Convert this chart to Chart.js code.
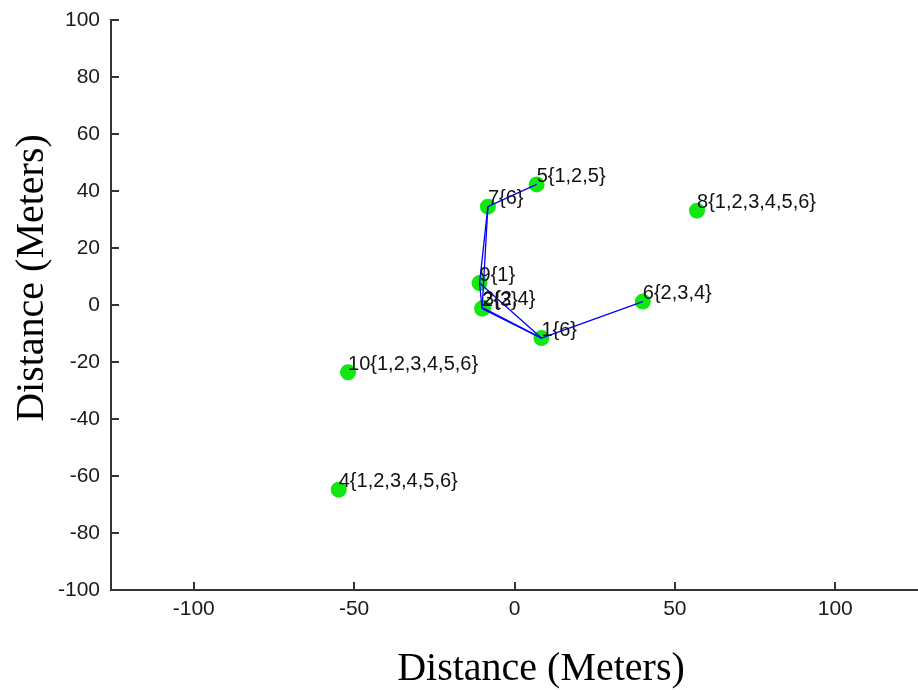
<!DOCTYPE html>
<html>
<head>
<meta charset="utf-8">
<script src="https://cdn.jsdelivr.net/npm/chart.js@4/dist/chart.umd.min.js"></script>
<style>
  html, body { margin: 0; padding: 0; background: #fff; overflow: hidden; }
  #wrap { width: 918px; height: 690px; }
</style>
</head>
<body>
<div id="wrap"><canvas id="nodeChart" width="918" height="690"></canvas></div>
<script>
// node positions in meters
const nodeX = [8.4, -10.1, -9.8, -54.8, 6.9, 40.0, -8.3, 56.9, -10.9, -51.9];
const nodeY = [-11.6, -1.3, -1.0, -64.8, 42.3, 1.2, 34.5, 33.1, 7.7, -23.6];
const nodeLabels = ['1{6}', '2{3}', '3{2,4}', '4{1,2,3,4,5,6}', '5{1,2,5}', '6{2,3,4}',
  '7{6}', '8{1,2,3,4,5,6}', '9{1}', '10{1,2,3,4,5,6}'];

// links between nodes (1-based node numbers)
const links = [[5, 7], [7, 9], [7, 2], [9, 2], [2, 1], [3, 1], [9, 1], [1, 6]];

const xTicks = [-100, -50, 0, 50, 100];
const yTicks = [-100, -80, -60, -40, -20, 0, 20, 40, 60, 80, 100];
const xRange = [-125.8, 125.8];
const yRange = [-100, 100];

const axisTitle = 'Distance (Meters)';

const nodePoints = nodeX.map((x, i) => ({ x: x, y: nodeY[i] }));

const linkSets = links.map(([a, b]) => ({
  type: 'scatter',
  data: [nodePoints[a - 1], nodePoints[b - 1]],
  showLine: true,
  borderColor: '#0000ff',
  borderWidth: 1.3,
  pointRadius: 0,
  pointHoverRadius: 0,
  order: 1
}));

// inward tick marks on both axes
const tickMarks = {
  id: 'tickMarks',
  afterDraw(chart) {
    const { ctx, chartArea, scales } = chart;
    ctx.save();
    ctx.strokeStyle = '#333';
    ctx.lineWidth = 2;
    ctx.beginPath();
    xTicks.forEach(v => {
      const px = Math.round(scales.x.getPixelForValue(v));
      ctx.moveTo(px, chartArea.bottom);
      ctx.lineTo(px, chartArea.bottom - 8);
    });
    yTicks.forEach(v => {
      const py = Math.round(scales.y.getPixelForValue(v));
      ctx.moveTo(chartArea.left, py);
      ctx.lineTo(chartArea.left + 8, py);
    });
    ctx.stroke();
    ctx.restore();
  }
};

// node name + group text next to each point (last node first)
const nodeText = {
  id: 'nodeText',
  afterDatasetsDraw(chart) {
    const meta = chart.getDatasetMeta(0);
    const ctx = chart.ctx;
    ctx.save();
    ctx.font = '20px "Liberation Sans", Arial, sans-serif';
    ctx.fillStyle = '#111';
    ctx.textAlign = 'left';
    ctx.textBaseline = 'middle';
    for (let i = meta.data.length - 1; i >= 0; i--) {
      const pt = meta.data[i];
      ctx.fillText(nodeLabels[i], pt.x, pt.y - 8);
    }
    ctx.restore();
  }
};

// serif axis titles
const axisTitles = {
  id: 'axisTitles',
  afterDraw(chart) {
    const ctx = chart.ctx;
    ctx.save();
    ctx.font = '40px "Liberation Serif", "Times New Roman", serif';
    ctx.fillStyle = '#000';
    ctx.textAlign = 'center';
    ctx.textBaseline = 'alphabetic';
    ctx.fillText(axisTitle, 541, 680);
    ctx.translate(43, 278);
    ctx.rotate(-Math.PI / 2);
    ctx.fillText(axisTitle, 0, 0);
    ctx.restore();
  }
};

const tickFont = { family: '"Liberation Sans", Arial, sans-serif', size: 21 };

new Chart(document.getElementById('nodeChart'), {
  type: 'scatter',
  data: {
    datasets: [{
      data: nodePoints,
      backgroundColor: '#10e810',
      borderColor: '#10e810',
      borderWidth: 0,
      pointRadius: 8,
      pointHoverRadius: 8,
      order: 2
    }].concat(linkSets)
  },
  options: {
    responsive: false,
    animation: false,
    devicePixelRatio: 1,
    layout: { autoPadding: false, padding: { top: 20, right: 0, left: 0, bottom: 0 } },
    plugins: { legend: { display: false }, tooltip: { enabled: false } },
    scales: {
      x: {
        type: 'linear',
        min: xRange[0],
        max: xRange[1],
        afterBuildTicks: s => { s.ticks = xTicks.map(v => ({ value: v })); },
        afterFit: s => { s.height = 100; s.paddingLeft = 0; s.paddingRight = 0; },
        grid: { display: false, drawTicks: false },
        border: { display: true, color: '#333', width: 2 },
        ticks: { font: tickFont, color: '#1a1a1a', padding: 7, maxRotation: 0 }
      },
      y: {
        type: 'linear',
        min: yRange[0],
        max: yRange[1],
        afterBuildTicks: s => { s.ticks = yTicks.map(v => ({ value: v })); },
        afterFit: s => { s.width = 111; s.paddingTop = 0; s.paddingBottom = 0; },
        grid: { display: false, drawTicks: false },
        border: { display: true, color: '#333', width: 2 },
        ticks: { font: tickFont, color: '#1a1a1a', padding: 11 }
      }
    }
  },
  plugins: [tickMarks, nodeText, axisTitles]
});
</script>
</body>
</html>
